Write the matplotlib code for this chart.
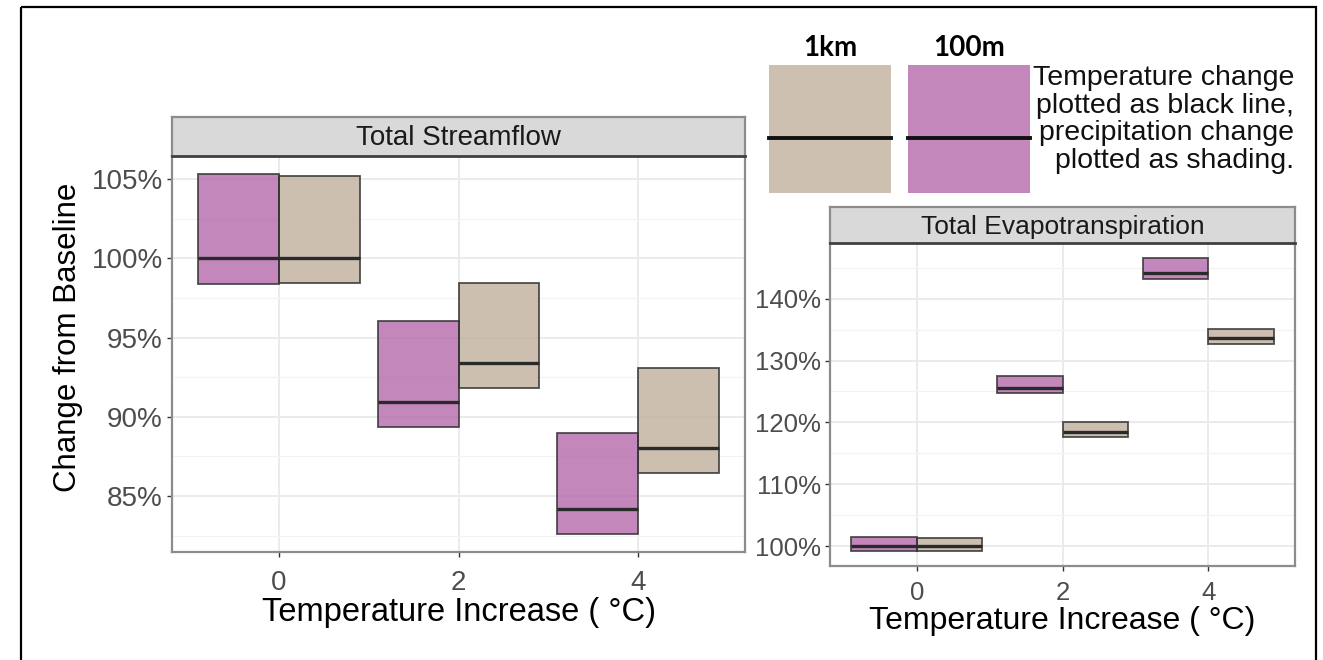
import numpy as np
import matplotlib
matplotlib.use("Agg")
import matplotlib.pyplot as plt
from matplotlib.patches import Rectangle
from matplotlib.ticker import FuncFormatter, MultipleLocator

# temperature scenarios (deg C)
temps = [0, 2, 4]

# Total streamflow, % of baseline (box = precipitation range, line = temperature only)
flow_100m_low = [98.36, 89.37, 82.60]
flow_100m_mid = [100.0, 90.95, 84.15]
flow_100m_high = [105.33, 96.04, 89.00]
flow_1km_low = [98.43, 91.80, 86.47]
flow_1km_mid = [100.0, 93.40, 88.00]
flow_1km_high = [105.20, 98.43, 93.08]

# Total evapotranspiration, % of baseline
et_100m_low = [99.2, 124.7, 143.1]
et_100m_mid = [100.0, 125.6, 144.2]
et_100m_high = [101.5, 127.5, 146.6]
et_1km_low = [99.2, 117.6, 132.7]
et_1km_mid = [100.0, 118.4, 133.6]
et_1km_high = [101.4, 120.1, 135.1]

legend_labels = ["1km", "100m"]
note_lines = ["Temperature change", "plotted as black line,",
              "precipitation change", "plotted as shading."]

purple = "#B469AB"
tan = "#C0B09C"
edge = "#333333"

W, H = 1323, 660
plt.rcParams['font.family'] = ['Liberation Sans', 'DejaVu Sans']
fig = plt.figure(figsize=(W / 100, H / 100), dpi=100)


def rect(x0, y0, x1, y1):
    # pixel box (top-left origin) -> figure fraction
    return [x0 / W, 1 - y1 / H, (x1 - x0) / W, (y1 - y0) / H]


# background overlay for frame and legend, in pixel coordinates
ov = fig.add_axes([0, 0, 1, 1])
ov.set_xlim(0, W)
ov.set_ylim(H, 0)
ov.axis('off')
ov.add_patch(Rectangle((21, 7), 1295, 660, fill=False, ec='black', lw=1.6))


def panel(box, sbox, title, lo1, mid1, hi1, lo2, mid2, hi2,
          major, minor, tick_fs, strip_fs, xpad):
    ax = fig.add_axes(rect(*box))
    t = np.array(temps, dtype=float)
    for off, lo, mid, hi, col in [(-0.45, lo1, mid1, hi1, purple),
                                  (0.45, lo2, mid2, hi2, tan)]:
        lo = np.array(lo)
        hi = np.array(hi)
        ax.bar(t + off, hi - lo, bottom=lo, width=0.9, color=col, alpha=0.8,
               linewidth=0, zorder=3)
        ax.bar(t + off, hi - lo, bottom=lo, width=0.9, fill=False,
               edgecolor=edge, linewidth=1.3, alpha=0.85, zorder=4)
        ax.hlines(mid, t + off - 0.45, t + off + 0.45, color='#2a2a2a',
                  linewidth=2.4, zorder=5)
    allv = lo1 + hi1 + lo2 + hi2
    pad = 0.05 * (max(allv) - min(allv))
    ax.set_ylim(min(allv) - pad, max(allv) + pad)
    ax.set_xlim(-0.9 - 0.29, 4.9 + 0.29)
    ax.set_xticks(temps)
    ax.yaxis.set_major_locator(MultipleLocator(major))
    ax.yaxis.set_minor_locator(MultipleLocator(minor))
    ax.yaxis.set_major_formatter(FuncFormatter(lambda v, p: f"{v:.0f}%"))
    ax.tick_params(which='major', length=3.6, width=1, color='#333333',
                   labelcolor='#4D4D4D', labelsize=tick_fs, pad=3)
    ax.tick_params(axis='x', pad=xpad)
    ax.tick_params(which='minor', length=0)
    ax.grid(which='major', color='#EBEBEB', lw=1.4)
    ax.grid(which='minor', axis='y', color='#F3F3F3', lw=0.9)
    ax.set_axisbelow(True)
    for s in ax.spines.values():
        s.set_color('#8C8C8C')
        s.set_linewidth(1.6)

    st = fig.add_axes(rect(*sbox))
    st.set_facecolor('#D9D9D9')
    st.set_xticks([])
    st.set_yticks([])
    for s in st.spines.values():
        s.set_color('#8C8C8C')
        s.set_linewidth(1.6)
    st.spines['bottom'].set_color('#404040')
    st.spines['bottom'].set_linewidth(2)
    st.text(0.5, 0.45, title, ha='center', va='center', fontsize=strip_fs,
            color='#1A1A1A', transform=st.transAxes)
    return ax


ax1 = panel((172, 156, 745, 552), (172, 117, 745, 156), "Total Streamflow",
            flow_100m_low, flow_100m_mid, flow_100m_high,
            flow_1km_low, flow_1km_mid, flow_1km_high, 5, 2.5, 20, 20, 9)
ax1.set_xlabel("Temperature Increase ( °C)", fontsize=23.5, labelpad=1)
ax1.set_ylabel("Change from Baseline", fontsize=22.5)
ax1.yaxis.set_label_coords(-0.155, 0.543)

ax2 = panel((830, 243, 1295, 566), (830, 207, 1295, 243),
            "Total Evapotranspiration",
            et_100m_low, et_100m_mid, et_100m_high,
            et_1km_low, et_1km_mid, et_1km_high, 10, 5, 18.5, 19, 7)
ax2.set_xlabel("Temperature Increase ( °C)", fontsize=23, labelpad=1)

# legend swatches
for x0, col, lab in [(769, "#CDC0B0", legend_labels[0]),
                     (908, "#C387BC", legend_labels[1])]:
    ov.add_patch(Rectangle((x0, 65), 122, 128, color=col, lw=0))
    ov.plot([x0, x0 + 122], [137.5, 137.5], color='#111111', lw=2.8)
    ov.text(x0 + 61, 48, lab, ha='center', va='center', fontsize=20,
            fontweight='bold', family=['Lato', 'DejaVu Sans'])

for i, line in enumerate(note_lines):
    ov.text(1294, 78 + i * 27.7, line, ha='right', va='center',
            fontsize=20.5, color='#111111')

fig.savefig("out.png", dpi=100)
